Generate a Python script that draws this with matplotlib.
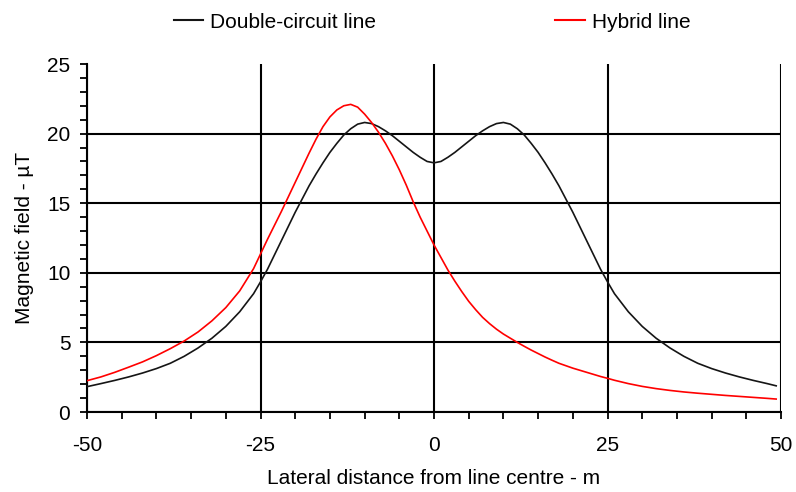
import matplotlib
matplotlib.use("Agg")
import matplotlib.pyplot as plt
from matplotlib.ticker import MultipleLocator
from matplotlib.lines import Line2D

# lateral distance (m)
distancia = [-50, -48, -46, -44, -42, -40, -38, -36, -34, -32, -30, -28, -26, -25, -24,
             -22, -20, -18, -17, -16, -15, -14, -13, -12, -11, -10, -9, -8, -7, -6,
             -5, -4, -3, -2, -1, 0, 1, 2, 3, 4, 5, 6, 7, 8, 9, 10, 11, 12, 13, 14,
             15, 16, 17, 18, 20, 22, 24, 25, 26, 28, 30, 32, 34, 36, 38, 40, 42, 44,
             46, 48, 49.3]

# magnetic field (uT)
duplo = [1.82, 2.04, 2.27, 2.52, 2.8, 3.12, 3.5, 4.0, 4.6, 5.3, 6.15, 7.2, 8.5, 9.35, 10.25,
         12.3, 14.35, 16.25, 17.1, 17.9, 18.65, 19.3, 19.9, 20.35, 20.68, 20.8, 20.72,
         20.5, 20.2, 19.85, 19.45, 19.05, 18.65, 18.3, 18.0, 17.9, 18.0, 18.3, 18.65,
         19.05, 19.45, 19.85, 20.2, 20.5, 20.72, 20.8, 20.68, 20.35, 19.9, 19.3, 18.65,
         17.9, 17.1, 16.25, 14.35, 12.3, 10.25, 9.35, 8.5, 7.2, 6.15, 5.3, 4.6, 4.0,
         3.5, 3.12, 2.8, 2.52, 2.27, 2.04, 1.88]

hibrido = [2.25, 2.52, 2.85, 3.22, 3.6, 4.05, 4.55, 5.1, 5.75, 6.55, 7.5, 8.7, 10.3, 11.35,
           12.4, 14.4, 16.5, 18.6, 19.6, 20.5, 21.2, 21.7, 22.0, 22.1, 21.9, 21.4, 20.8,
           20.1, 19.3, 18.4, 17.4, 16.3, 15.1, 14.0, 13.0, 12.0, 11.1, 10.2, 9.4, 8.65,
           7.95, 7.35, 6.8, 6.35, 5.95, 5.6, 5.3, 5.0, 4.72, 4.45, 4.2, 3.95, 3.72, 3.5,
           3.15, 2.85, 2.55, 2.42, 2.28, 2.04, 1.84, 1.68, 1.55, 1.44, 1.35, 1.27, 1.19,
           1.12, 1.05, 0.98, 0.93]

nomes = ["Double-circuit line", "Hybrid line"]
xticks = [-50, -25, 0, 25, 50]
yticks = [0, 5, 10, 15, 20, 25]

plt.rcParams["font.family"] = ["Liberation Sans", "DejaVu Sans"]
plt.rcParams["axes.unicode_minus"] = False

fig = plt.figure(figsize=(7.96, 4.92), dpi=100)
ax = fig.add_axes([0.1093, 0.1626, 0.8719, 0.7073])

ax.plot(distancia, duplo, color="#151515", lw=1.2, zorder=3)
ax.plot(distancia, hibrido, color="#ff0000", lw=1.2, zorder=3)

ax.set_xlim(-50, 50)
ax.set_ylim(0, 25)
ax.set_xticks(xticks)
ax.set_yticks(yticks)
ax.xaxis.set_minor_locator(MultipleLocator(5))
ax.yaxis.set_minor_locator(MultipleLocator(1))
ax.tick_params(which="both", direction="out", length=5, width=1.3, color="black")
ax.tick_params(axis="x", which="major", labelsize=15, pad=12)
ax.tick_params(axis="y", which="major", labelsize=15, pad=7)

ax.grid(True, which="major", color="black", lw=1.5)
ax.yaxis.get_gridlines()[-1].set_visible(False)  # sem linha no 25
ax.set_axisbelow(True)

for s in ["top", "right"]:
    ax.spines[s].set_visible(False)
for s in ["left", "bottom"]:
    ax.spines[s].set_linewidth(1.5)

ax.set_xlabel("Lateral distance from line centre - m", fontsize=15)
ax.set_ylabel("Magnetic field - µT", fontsize=15)
ax.xaxis.set_label_coords(0.5, -0.165)
ax.yaxis.set_label_coords(-0.076, 0.5)

linhas = [Line2D([], [], color="#151515", lw=1.5), Line2D([], [], color="#ff0000", lw=1.5)]
fig.legend(linhas, nomes, loc="center", bbox_to_anchor=(0.543, 0.955), ncol=2,
           frameon=False, prop={"size": 15},
           handlelength=1.4, handletextpad=0.35, columnspacing=8.6)

fig.savefig("out.png", dpi=100)
